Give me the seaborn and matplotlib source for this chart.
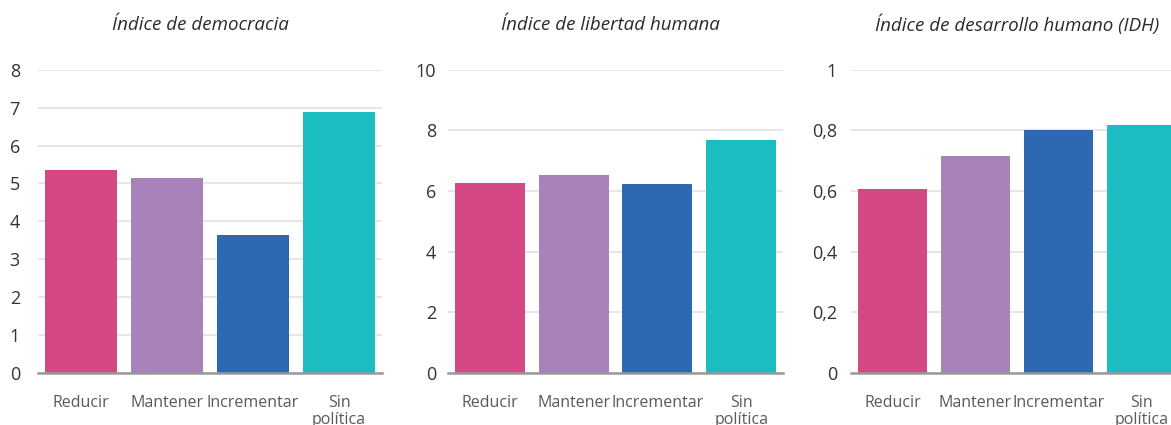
import matplotlib
matplotlib.use("Agg")
import matplotlib.pyplot as plt
import seaborn as sns
import pandas as pd

sns.set_theme(style="white")
plt.rcParams['font.family'] = ['Open Sans', 'DejaVu Sans']

categories = ["Reducir", "Mantener", "Incrementar", "Sin\npolítica"]
colors = ["#D34885", "#A782BB", "#2C69B0", "#1BBDC1"]

titles = ["Índice de democracia", "Índice de libertad humana",
          "Índice de desarrollo humano (IDH)"]

democracia = [5.36, 5.15, 3.64, 6.89]
libertad = [6.26, 6.53, 6.23, 7.68]
idh = [0.608, 0.714, 0.800, 0.817]

ticks_dem = [0, 1, 2, 3, 4, 5, 6, 7, 8]
ticks_lib = [0, 2, 4, 6, 8, 10]
ticks_idh = [0, 0.2, 0.4, 0.6, 0.8, 1.0]
labels_dem = ["0", "1", "2", "3", "4", "5", "6", "7", "8"]
labels_lib = ["0", "2", "4", "6", "8", "10"]
labels_idh = ["0", "0,2", "0,4", "0,6", "0,8", "1"]

series = [democracia, libertad, idh]
yticks = [ticks_dem, ticks_lib, ticks_idh]
ylabels = [labels_dem, labels_lib, labels_idh]

fig = plt.figure(figsize=(11.71, 4.25), dpi=100)
W, H = 1171, 425
bottom_px, top_px = 373, 69.7
positions = [(38, 382), (448, 783), (851, 1183)]
title_x = [0.471, 0.484, 0.5]
ypads = [13, 8.6, 10]
title_center_px = 25

for i in range(3):
    l, r = positions[i]
    ax = fig.add_axes([l / W, (H - bottom_px) / H, (r - l) / W, (bottom_px - top_px) / H])
    df = pd.DataFrame({"cat": categories, "val": series[i]})
    sns.barplot(data=df, x="cat", y="val", hue="cat", palette=colors,
                legend=False, width=0.835, saturation=1, linewidth=0,
                edgecolor="none", ax=ax)
    ax.set_xlim(-0.5, 3.5)
    ax.set_ylim(yticks[i][0], yticks[i][-1])
    ax.set_yticks(yticks[i])
    ax.set_yticklabels(ylabels[i])
    ax.set_xlabel("")
    ax.set_ylabel("")
    for s in ["top", "right", "left"]:
        ax.spines[s].set_visible(False)
    ax.spines["bottom"].set_color("#999999")
    ax.spines["bottom"].set_linewidth(1.8)
    ax.spines["bottom"].set_zorder(5)
    ax.yaxis.grid(True, color="#e2e2e2", linewidth=1.2)
    ax.set_axisbelow(True)
    ax.tick_params(axis="y", length=0, pad=ypads[i], labelsize=13, labelcolor="#333333")
    ax.tick_params(axis="x", length=0, pad=15.5, labelsize=11.5, labelcolor="#595959")
    for t in ax.get_xticklabels():
        t.set_linespacing(1.12)
    ty = 1 + (top_px - title_center_px) / (bottom_px - top_px)
    ax.set_title(titles[i], x=title_x[i], y=ty, pad=0, fontsize=13.5,
                 fontstyle="italic", color="#2a2a2a", va="center")

fig.savefig("out.png", dpi=100)
